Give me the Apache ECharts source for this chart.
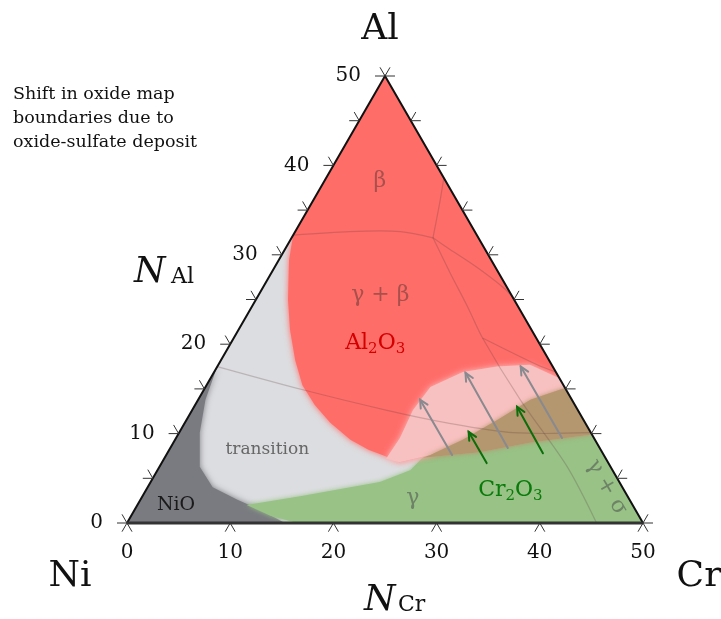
<!DOCTYPE html>
<html>
<head>
<meta charset="utf-8">
<script src="https://cdn.jsdelivr.net/npm/echarts@6/dist/echarts.min.js"></script>
<style>
html, body { margin: 0; padding: 0; background: #fff; }
#main { width: 721px; height: 619px; }
</style>
</head>
<body>
<div id="main"></div>
<script>
const chart = echarts.init(document.getElementById('main'));
const H = Math.sqrt(3) / 2;
const FONT = 'DejaVu Serif';

// every point is [N_Cr, N_Al] in at.%, Ni = balance
const triangle = [[0, 0], [50, 0], [0, 50]];
const niORegion = [[0, 0], [15.3, 0], [12.2, 1.45], [9.4, 2.6], [6.3, 4.0], [3.9, 6.3], [2.0, 10.1], [0.7, 13.8], [0, 17.5]];
const greenRegion = [[10.6, 2.0], [15.3, 3.0], [22.2, 4.6], [24.5, 5.9], [25.0, 7.3], [30.2, 7.9], [34.6, 9.0], [40.1, 9.9], [50, 0], [16.5, 0], [13.5, 0.8]];
const redRegion = [[0, 50], [34.9, 15.1], [32.2, 13.8], [30.1, 11.5], [27.9, 9.3], [25.6, 7.6], [23.0, 6.8], [21.25, 7.5],
  [19.3, 8.2], [17.0, 9.3], [14.1, 11.2], [11.6, 13.2], [9.3, 15.4], [7.2, 18.2], [5.0, 21.6], [3.1, 25.0], [1.0, 29.4], [0, 32.2]];
const pinkRegion = [[21.5, 7.2], [21.7, 9.5], [21.4, 12.6], [21.8, 15.2], [24.1, 16.9], [27.1, 17.5], [30.2, 17.7], [33.8, 16.2],
  [34.9, 15.1], [32.2, 13.8], [30.1, 11.5], [27.9, 9.3], [25.6, 7.6], [23.0, 6.8]];
const brownRegion = [[25.6, 7.6], [27.9, 9.3], [30.1, 11.5], [32.2, 13.8], [34.9, 15.1], [40.1, 9.9], [34.6, 9.0], [30.2, 7.9], [25.0, 7.3]];

const phaseLines = [
  [[0, 32.2], [5.3, 32.6], [10.2, 32.6], [13.7, 31.9]],
  [[13.7, 31.9], [12.4, 35.8], [11.4, 38.6]],
  [[13.7, 31.9], [16.0, 30.6], [19.6, 28.6], [23.2, 26.4], [24.7, 25.3]],
  [[13.7, 31.9], [17.3, 28.0], [20.9, 24.2], [24.1, 20.7], [31.2, 13.8], [39.5, 6.3], [45.5, 0]],
  [[24.1, 20.7], [30.9, 17.7], [33.1, 16.9]],
  [[0, 17.5], [9.6, 14.9], [18.9, 12.6], [25.4, 11.2], [32.4, 10.1], [39.9, 10.1]]
];

// [tail, head]
const greyArrows = [
  [[27.7, 7.6], [21.5, 13.8]],
  [[32.7, 8.4], [24.4, 16.8]],
  [[37.4, 9.5], [29.4, 17.5]]
];
const greenArrows = [
  [[31.5, 6.7], [28.0, 10.2]],
  [[36.4, 7.8], [31.3, 13.0]]
];

const bottomTicks = [0, 10, 20, 30, 40, 50];
const sideTicks = [0, 5, 10, 15, 20, 25, 30, 35, 40, 45, 50];
const tickLabels = ['0', '10', '20', '30', '40', '50'];

// [N_Cr, N_Al, text]
const regionLabels = [
  [5.4, 38.2, '{b|β}'],
  [11.8, 25.5, '{b|γ + β}'],
  [14.0, 20.1, '{r|Al}{rs|2}{r|O}{rs|3}'],
  [9.5, 8.2, '{t|transition}'],
  [3.75, 2.0, '{k|NiO}'],
  [26.3, 2.8, '{g|γ}'],
  [35.3, 3.7, '{c|Cr}{cs|2}{c|O}{cs|3}'],
  [44.5, 4.0, '{g|γ + σ}']
];

function pt(api, p) {
  return api.coord([p[0] + p[1] / 2, p[1] * H]);
}

function area(name, pts, color, blur, z) {
  return {
    name: name, type: 'custom', silent: true, z: z,
    data: [[0, 0]],
    renderItem: function (params, api) {
      return {
        type: 'polygon',
        shape: { points: pts.map(p => pt(api, p)) },
        style: { fill: color, shadowBlur: blur, shadowColor: color }
      };
    }
  };
}

function arrowEls(t, h, color) {
  const a = Math.atan2(h[1] - t[1], h[0] - t[0]);
  const w = 9, s = 0.45;
  const st = { stroke: color, lineWidth: 2, lineCap: 'round', fill: 'none' };
  return [
    { type: 'line', shape: { x1: t[0], y1: t[1], x2: h[0], y2: h[1] }, style: st },
    { type: 'polyline', shape: { points: [
      [h[0] - w * Math.cos(a - s), h[1] - w * Math.sin(a - s)], h,
      [h[0] - w * Math.cos(a + s), h[1] - w * Math.sin(a + s)]] }, style: st }
  ];
}

const rich = {
  b: { fontFamily: FONT, fontSize: 22, fill: '#a8504c' },
  r: { fontFamily: FONT, fontSize: 22, fill: '#d40000' },
  rs: { fontFamily: FONT, fontSize: 15, fill: '#d40000', padding: [12, 0, 0, 0] },
  t: { fontFamily: FONT, fontSize: 17, fill: '#666' },
  k: { fontFamily: FONT, fontSize: 19, fill: '#1a1a1a' },
  g: { fontFamily: FONT, fontSize: 22, fill: '#6d8266' },
  c: { fontFamily: FONT, fontSize: 22, fill: '#0a7a0a' },
  cs: { fontFamily: FONT, fontSize: 15, fill: '#0a7a0a', padding: [12, 0, 0, 0] }
};

let option = {
  animation: false,
  grid: { left: 127, right: 78, top: 76, bottom: 96 },
  xAxis: { type: 'value', min: 0, max: 50, show: false },
  yAxis: { type: 'value', min: 0, max: 50 * H, show: false },
  series: [
    area('base', triangle, '#dcdde0', 0, 1),
    area('NiO', niORegion, '#7a7b80', 6, 2),
    area('green', greenRegion, '#98c286', 5, 3),
    area('Al2O3', redRegion, '#ff6d69', 6, 4),
    area('pink', pinkRegion, '#f8c1c1', 6, 5),
    area('brown', brownRegion, '#b4966f', 5, 6),
    {
      // white outside the triangle, hides blur spill
      type: 'custom', silent: true, z: 7, data: [[0, 0]],
      renderItem: function (params, api) {
        const ni = pt(api, triangle[0]), cr = pt(api, triangle[1]), al = pt(api, triangle[2]);
        const W = api.getWidth(), Hh = api.getHeight();
        const st = { fill: '#fff' };
        return { type: 'group', children: [
          { type: 'polygon', shape: { points: [[0, 0], [al[0], 0], al, ni, [0, ni[1]]] }, style: st },
          { type: 'polygon', shape: { points: [[al[0], 0], [W, 0], [W, cr[1]], cr, al] }, style: st },
          { type: 'polygon', shape: { points: [[0, ni[1]], [W, cr[1]], [W, Hh], [0, Hh]] }, style: st }
        ] };
      }
    },
    {
      type: 'custom', silent: true, z: 8, data: phaseLines.map((l, i) => [i, 0]),
      renderItem: function (params, api) {
        return {
          type: 'polyline',
          shape: { points: phaseLines[params.dataIndex].map(p => pt(api, p)), smooth: 0.3 },
          style: { stroke: 'rgba(90,60,60,0.25)', lineWidth: 1.2, fill: 'none' }
        };
      }
    },
    {
      type: 'custom', silent: true, z: 9, data: greyArrows.concat(greenArrows).map((a, i) => [i, 0]),
      renderItem: function (params, api) {
        const i = params.dataIndex;
        const a = i < greyArrows.length ? greyArrows[i] : greenArrows[i - greyArrows.length];
        const color = i < greyArrows.length ? '#888a8f' : '#0b6e0b';
        return { type: 'group', children: arrowEls(pt(api, a[0]), pt(api, a[1]), color) };
      }
    },
    {
      type: 'custom', silent: true, z: 10, data: regionLabels.map(l => [l[0], l[1]]),
      renderItem: function (params, api) {
        const l = regionLabels[params.dataIndex];
        const p = pt(api, l);
        return {
          type: 'text', x: p[0], y: p[1],
          rotation: l[2].indexOf('σ') >= 0 ? -Math.PI / 3 : 0,
          style: { text: l[2], rich: rich, align: 'center', verticalAlign: 'middle' }
        };
      }
    },
    {
      // triangle frame
      type: 'custom', silent: true, z: 11, data: [[0, 0]],
      renderItem: function (params, api) {
        const ni = pt(api, triangle[0]), cr = pt(api, triangle[1]), al = pt(api, triangle[2]);
        return { type: 'group', children: [
          { type: 'polyline', shape: { points: [ni, al, cr] }, style: { stroke: '#111', lineWidth: 2, fill: 'none' } },
          { type: 'line', shape: { x1: ni[0], y1: ni[1], x2: cr[0], y2: cr[1] }, style: { stroke: '#333', lineWidth: 3 } }
        ] };
      }
    },
    {
      // ticks and tick labels
      type: 'custom', silent: true, z: 12, data: [[0, 0]],
      renderItem: function (params, api) {
        const els = [];
        const L = 10;
        const st = { stroke: '#333', lineWidth: 1 };
        function tick(p, dirs) {
          dirs.forEach(d => els.push({ type: 'line', shape: { x1: p[0], y1: p[1], x2: p[0] + d[0] * L, y2: p[1] + d[1] * L }, style: st }));
        }
        sideTicks.forEach(v => {
          tick(pt(api, [0, v]), [[-1, 0], [-0.5, -H]]);
          tick(pt(api, [50 - v, v]), [[1, 0], [0.5, -H]]);
        });
        bottomTicks.forEach((v, i) => {
          const p = pt(api, [v, 0]);
          tick(p, [[-0.5, H], [0.5, H]]);
          els.push({ type: 'text', x: p[0], y: p[1] + 30, style: { text: tickLabels[i], font: '20px ' + FONT, fill: '#111', align: 'center', verticalAlign: 'middle' } });
          const q = pt(api, [0, v]);
          els.push({ type: 'text', x: q[0] - 24, y: q[1], style: { text: tickLabels[i], font: '20px ' + FONT, fill: '#111', align: 'right', verticalAlign: 'middle' } });
        });
        return { type: 'group', children: els };
      }
    }
  ],
  graphic: [
    { type: 'text', z: 100, x: 380, y: 30, style: { text: 'Al', font: '36px ' + FONT, fill: '#111', align: 'center', verticalAlign: 'middle' } },
    { type: 'text', z: 100, x: 70, y: 577, style: { text: 'Ni', font: '36px ' + FONT, fill: '#111', align: 'center', verticalAlign: 'middle' } },
    { type: 'text', z: 100, x: 699, y: 577, style: { text: 'Cr', font: '36px ' + FONT, fill: '#111', align: 'center', verticalAlign: 'middle' } },
    { type: 'text', z: 100, x: 134, y: 255, style: { text: 'N', font: 'italic 36px ' + FONT, fill: '#111', verticalAlign: 'top' } },
    { type: 'text', z: 100, x: 171, y: 266, style: { text: 'Al', font: '22px ' + FONT, fill: '#111', verticalAlign: 'top' } },
    { type: 'text', z: 100, x: 364, y: 583, style: { text: 'N', font: 'italic 36px ' + FONT, fill: '#111', verticalAlign: 'top' } },
    { type: 'text', z: 100, x: 398, y: 594, style: { text: 'Cr', font: '22px ' + FONT, fill: '#111', verticalAlign: 'top' } },
    { type: 'text', z: 100, x: 13, y: 82, style: { text: 'Shift in oxide map\nboundaries due to\noxide-sulfate deposit', font: '17.5px ' + FONT, lineHeight: 24, fill: '#111' } },
    { type: 'group', z: 100, children: arrowEls([70, 70], [43, 23], '#8a8a8a') },
    { type: 'group', z: 100, children: arrowEls([122, 70], [94, 24], '#0b6e0b') }
  ]
};
chart.setOption(option);
</script>
</body>
</html>
